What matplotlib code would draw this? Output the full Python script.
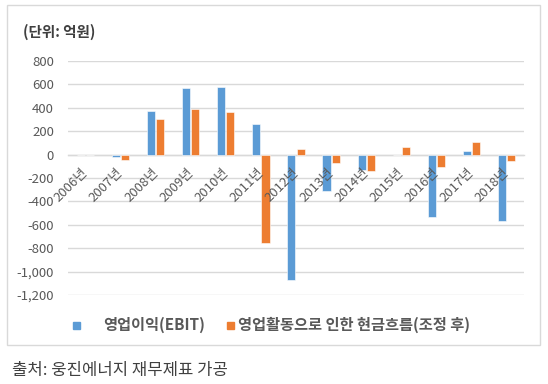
import matplotlib
matplotlib.use("Agg")
import matplotlib.pyplot as plt
import matplotlib.ticker as mticker
import matplotlib.transforms as mtransforms
from matplotlib.patches import Rectangle
import numpy as np

plt.rcParams['font.family'] = ['Noto Sans CJK KR', 'DejaVu Sans']

years = ["2006년", "2007년", "2008년", "2009년", "2010년", "2011년", "2012년",
         "2013년", "2014년", "2015년", "2016년", "2017년", "2018년"]
ebit = [0, -20, 375, 565, 577, 260, -1072, -308, -132, 0, -530, 32, -565]
cashflow = [0, -42, 305, 388, 362, -758, 48, -68, -137, 66, -108, 107, -55]
series_names = ["영업이익(EBIT)", "영업활동으로 인한 현금흐름(조정 후)"]
yticks = [-1200, -1000, -800, -600, -400, -200, 0, 200, 400, 600, 800]

BLUE = "#5B9BD5"
ORANGE = "#ED7D31"
GRID = "#D9D9D9"
TXT = "#595959"

W, H = 548, 384
fig = plt.figure(figsize=(W / 100, H / 100), dpi=100)

# outer chart frame
fig.patches.append(Rectangle((7 / W, 1 - 345 / H), 533 / W, 340 / H,
                             transform=fig.transFigure, fill=False,
                             edgecolor=GRID, linewidth=1))

ax = fig.add_axes([68 / W, 1 - 295 / H, 456 / W, (295 - 61) / H])
x = np.arange(len(years))
bw = 0.23
ax.bar(x - 0.13, ebit, bw, color=BLUE, edgecolor="white", linewidth=0.4, zorder=3)
ax.bar(x + 0.13, cashflow, bw, color=ORANGE, edgecolor="white", linewidth=0.4, zorder=3)

ax.set_xlim(-0.5, len(years) - 0.5)
ax.set_ylim(-1200, 800)
ax.set_yticks(yticks)
ax.yaxis.set_major_formatter(mticker.FuncFormatter(lambda v, p: f"{int(v):,}"))
ax.grid(axis="y", color=GRID, linewidth=1, zorder=0)
for s in ["top", "right", "left"]:
    ax.spines[s].set_visible(False)
ax.spines["bottom"].set_position(("data", 0))
ax.spines["bottom"].set_color(GRID)
ax.spines["bottom"].set_linewidth(1)
ax.spines["bottom"].set_zorder(1)
ax.tick_params(axis="both", length=0, colors=TXT)
ax.tick_params(axis="y", labelsize=9.5, pad=10)
ax.set_xticks(x)
ax.set_xticklabels(years, rotation=45, ha="right", fontsize=9.5, color=TXT)
ax.tick_params(axis="x", pad=8)
ax.xaxis.set_zorder(5)

offset = mtransforms.ScaledTranslation(5 / 100, 0, fig.dpi_scale_trans)
for lbl in ax.get_xticklabels():
    lbl.set_transform(lbl.get_transform() + offset)

# title
fig.text(23 / W, 1 - 32 / H, "(단위: 억원)", fontsize=10.5, fontweight="bold",
         color="#404040", va="center", ha="left")

# legend
ly = 1 - 325 / H
sq = 7
fig.patches.append(Rectangle(((76 - sq / 2) / W, ly - (sq / 2) / H), sq / W, sq / H,
                             transform=fig.transFigure, color=BLUE))
fig.text(103 / W, ly, series_names[0], fontsize=11, fontweight="bold",
         color=TXT, va="center", ha="left")
fig.patches.append(Rectangle(((230 - sq / 2) / W, ly - (sq / 2) / H), sq / W, sq / H,
                             transform=fig.transFigure, color=ORANGE))
fig.text(238 / W, ly, series_names[1], fontsize=11, fontweight="bold",
         color=TXT, va="center", ha="left")

# source
fig.text(12 / W, 1 - 371 / H, "출처: 웅진에너지 재무제표 가공", fontsize=12,
         color="#404040", va="center", ha="left")

fig.savefig("out.png", dpi=100, facecolor="white")
